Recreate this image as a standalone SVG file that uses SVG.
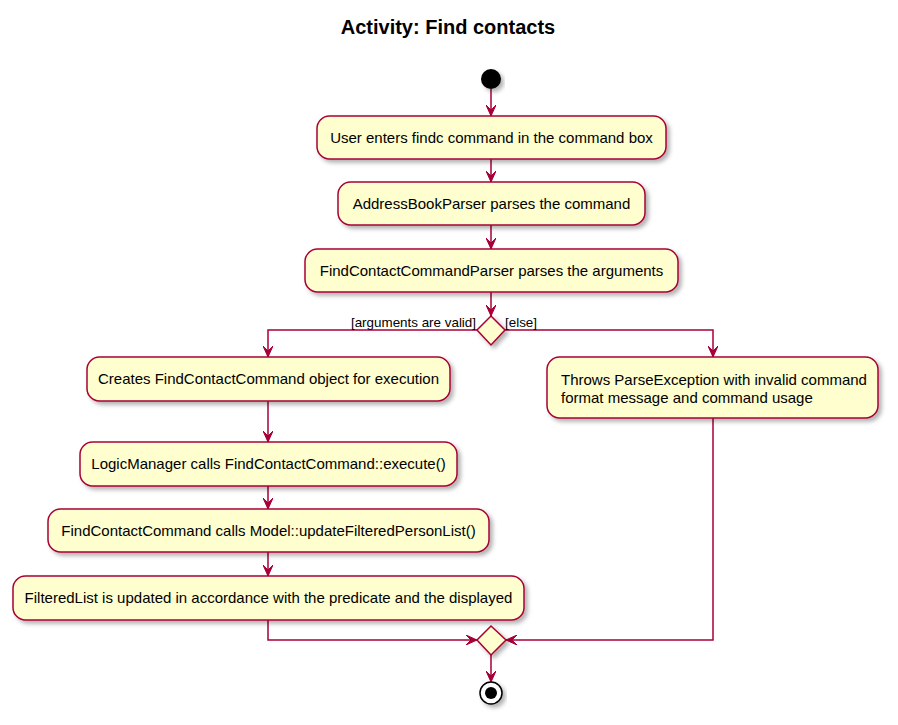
<svg xmlns="http://www.w3.org/2000/svg" width="898" height="725" viewBox="0 0 898 725">
<defs>
<filter id="sh" x="-20%" y="-20%" width="140%" height="160%">
<feDropShadow dx="3" dy="3" stdDeviation="2" flood-color="#000" flood-opacity="0.3"/>
</filter>
<marker id="ah" viewBox="0 0 12 10" refX="11" refY="5" markerWidth="12" markerHeight="10" markerUnits="userSpaceOnUse" orient="auto">
<path d="M0,0 L11,5 L0,10 L5,5 Z" fill="#A80036" stroke="#A80036" stroke-width="1"/>
</marker>
</defs>
<style>
.box{fill:#FEFECE;stroke:#A80036;stroke-width:1.5;filter:url(#sh)}
.t{font-family:"Liberation Sans",Arial,sans-serif;font-size:15px;fill:#000}
.lbl{font-family:"Liberation Sans",Arial,sans-serif;font-size:13.4px;fill:#000}
.ln{fill:none;stroke:#A80036;stroke-width:1.5}
</style>
<rect width="898" height="725" fill="#fff"/>
<text x="448" y="34" text-anchor="middle" font-family="'Liberation Sans',Arial,sans-serif" font-size="20" font-weight="bold" fill="#000">Activity: Find contacts</text>

<g id="connectors">
<path class="ln" d="M491,89 V116" marker-end="url(#ah)"/>
<path class="ln" d="M491,159 V182" marker-end="url(#ah)"/>
<path class="ln" d="M491,225 V249" marker-end="url(#ah)"/>
<path class="ln" d="M491,292 V316" marker-end="url(#ah)"/>
<path class="ln" d="M477,330 H268 V357" marker-end="url(#ah)"/>
<path class="ln" d="M505,330 H713 V357" marker-end="url(#ah)"/>
<path class="ln" d="M268,401 V442" marker-end="url(#ah)"/>
<path class="ln" d="M268,486 V509" marker-end="url(#ah)"/>
<path class="ln" d="M268,552 V576" marker-end="url(#ah)"/>
<path class="ln" d="M268,620 V640 H477" marker-end="url(#ah)"/>
<path class="ln" d="M713,418 V640 H506" marker-end="url(#ah)"/>
<path class="ln" d="M491,655 V682" marker-end="url(#ah)"/>
<text class="lbl" x="476" y="327" text-anchor="end">[arguments are valid]</text>
<text class="lbl" x="505" y="327">[else]</text>
</g>

<g id="start"><circle cx="491" cy="79" r="10" fill="#000" filter="url(#sh)"/></g>

<g id="n1"><rect class="box" x="317" y="116" width="349" height="43" rx="12.5"/>
<text class="t" x="491.5" y="143" text-anchor="middle">User enters findc command in the command box</text></g>

<g id="n2"><rect class="box" x="338" y="182" width="307" height="43" rx="12.5"/>
<text class="t" x="491.5" y="209" text-anchor="middle">AddressBookParser parses the command</text></g>

<g id="n3"><rect class="box" x="305" y="249" width="373" height="43" rx="12.5"/>
<text class="t" x="491.5" y="276" text-anchor="middle">FindContactCommandParser parses the arguments</text></g>

<g id="d1"><polygon class="box" points="491,316 505,330 491,345 477,330"/></g>

<g id="n4"><rect class="box" x="87" y="357" width="363" height="44" rx="12.5"/>
<text class="t" x="268.5" y="384" text-anchor="middle">Creates FindContactCommand object for execution</text></g>

<g id="n5"><rect class="box" x="547" y="357" width="331" height="61" rx="12.5"/>
<text class="t" x="561" y="385">Throws ParseException with invalid command</text>
<text class="t" x="561" y="403">format message and command usage</text></g>

<g id="n6"><rect class="box" x="80" y="442" width="377" height="44" rx="12.5"/>
<text class="t" x="268.5" y="469" text-anchor="middle">LogicManager calls FindContactCommand::execute()</text></g>

<g id="n7"><rect class="box" x="48" y="509" width="441" height="43" rx="12.5"/>
<text class="t" x="268.5" y="536" text-anchor="middle">FindContactCommand calls Model::updateFilteredPersonList()</text></g>

<g id="n8"><rect class="box" x="13" y="576" width="511" height="44" rx="12.5"/>
<text class="t" x="268.5" y="603" text-anchor="middle">FilteredList is updated in accordance with the predicate and the displayed</text></g>

<g id="d2"><polygon class="box" points="491,626 506,640 491,655 477,640"/></g>

<g id="end"><circle cx="491" cy="693" r="11" fill="#fff" stroke="#000" stroke-width="1.5" filter="url(#sh)"/>
<circle cx="491" cy="693" r="6" fill="#000"/></g>
</svg>
